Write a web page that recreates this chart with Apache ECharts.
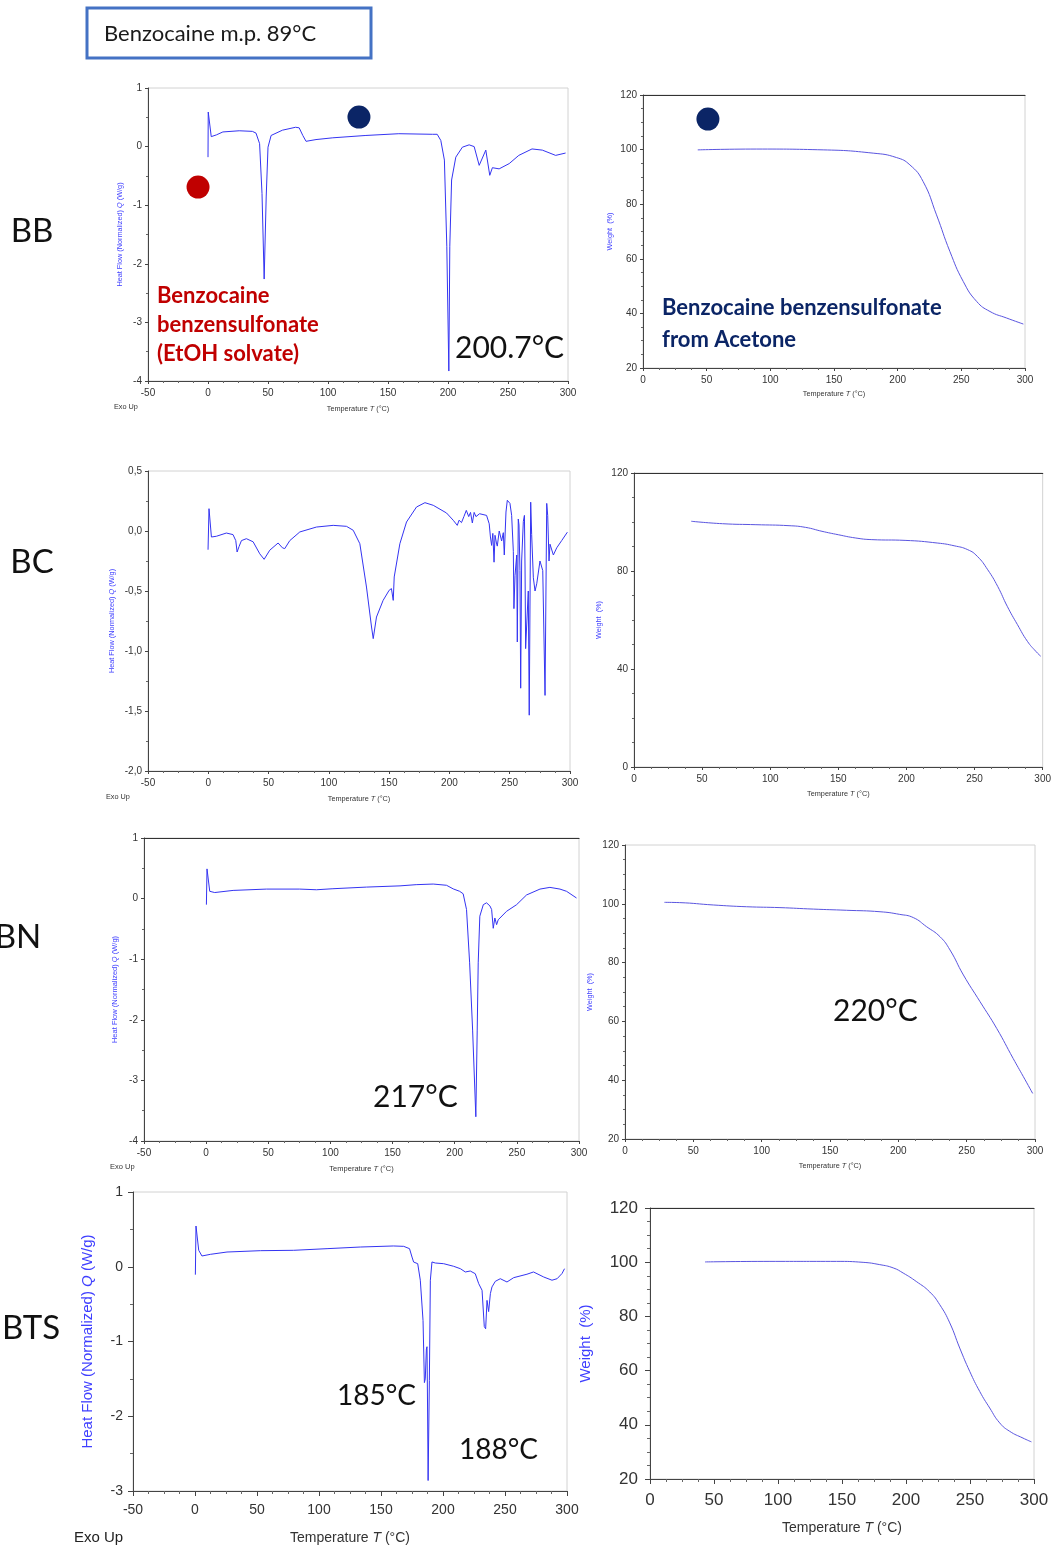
<!DOCTYPE html>
<html>
<head>
<meta charset="utf-8">
<title>Benzocaine salts – DSC / TGA</title>
<script src="https://cdn.jsdelivr.net/npm/echarts/dist/echarts.min.js"></script>
<style>
  html, body { margin: 0; padding: 0; background: #fff; }
  #chart { width: 1054px; height: 1548px; }
</style>
</head>
<body>
<div id="chart"></div>
<script>
// ---------- measured curves (temperature in °C) ----------

// BB: DSC heat flow (W/g)
const bbDscT = [0, 0.2, 2.7, 7, 12.4, 26, 37, 40, 43, 45, 46.8, 48.5, 50, 52.6, 62, 73, 76, 79, 81.7, 90, 104, 131.6, 159, 187, 191, 194, 197, 199, 200.7, 201.5, 203, 206.5, 212, 217.6, 221.8, 226, 231.5, 233, 234.8, 237, 242.6, 251, 259, 270, 278.6, 289.7, 298];
const bbDscQ = [-0.18, 0.59, 0.17, 0.2, 0.25, 0.27, 0.26, 0.23, 0.05, -0.8, -2.26, -0.86, -0.01, 0.19, 0.28, 0.33, 0.32, 0.19, 0.09, 0.12, 0.15, 0.19, 0.22, 0.21, 0.21, 0.105, -0.23, -1.7, -3.83, -1.7, -0.57, -0.18, -0.01, 0.03, 0.0, -0.32, -0.06, -0.06, -0.49, -0.36, -0.38, -0.29, -0.15, -0.04, -0.06, -0.15, -0.11];

// BB: TGA weight (%)
const bbTgaT = [43, 89, 141.5, 180.8, 199, 209.6, 220, 230.5, 241, 251.5, 262, 272.5, 285.6, 298.7];
const bbTgaW = [99.9, 100.2, 99.9, 98.7, 97.1, 94.4, 88.3, 76.1, 62.7, 51.7, 44.4, 40.7, 38.3, 36.1];

// BC: DSC heat flow (W/g)
const bcDscT = [-0.2, 0.6, 2.6, 6.7, 15, 20.5, 22.8, 23.9, 25.5, 27.5, 31.6, 37.2, 42.7, 46.3, 51, 57.9, 61.5, 63.4, 67.6, 75.9, 89.7, 103.6, 114.6, 120.2, 125.7, 131.2, 135.4, 136.8, 139.5, 145, 150, 151.9, 153.4, 154.2, 158.9, 164.4, 172.7, 179.7, 186.6, 197.6, 203.2, 206.5, 208, 210, 212, 214, 216, 217.5, 219, 220.5, 222, 225, 230.8, 233, 234, 235, 236, 237, 237.8, 239, 239.7, 241.3, 243.3, 244.7, 245.5, 246.9, 248, 250.2, 251.6, 253, 253.5, 254.4, 255.8, 256.3, 257.1, 257.7, 258.5, 259.1, 259.9, 261.3, 262.2, 262.7, 263.2, 264, 265.4, 266.2, 267.4, 268.2, 269.6, 271, 272.4, 275.1, 277.4, 279.3, 280.7, 281.5, 282.6, 283.4, 286.2, 289, 293.1, 297.8];
const bcDscQ = [-0.156, 0.186, -0.05, -0.044, -0.017, -0.03, -0.08, -0.175, -0.13, -0.08, -0.064, -0.09, -0.19, -0.236, -0.16, -0.1, -0.14, -0.147, -0.08, -0.008, 0.033, 0.047, 0.039, 0.006, -0.106, -0.467, -0.8, -0.897, -0.717, -0.578, -0.494, -0.48, -0.578, -0.383, -0.106, 0.075, 0.2, 0.236, 0.214, 0.15, 0.089, 0.047, 0.09, 0.07, 0.12, 0.172, 0.12, 0.155, 0.067, 0.155, 0.12, 0.144, 0.13, 0.06, -0.05, -0.12, -0.02, -0.26, -0.036, -0.1, -0.126, 0.0, -0.083, -0.014, -0.2, 0.158, 0.256, 0.23, 0.13, -0.17, -0.647, -0.37, -0.2, -0.925, 0.1, 0.05, -0.33, -1.31, -0.25, 0.08, 0.13, -0.3, -0.98, -0.8, -0.5, -1.535, 0.24, -0.03, -0.39, -0.5, -0.44, -0.25, -0.33, -1.37, 0.23, 0.13, -0.25, -0.11, -0.2, -0.14, -0.08, -0.01];

// BC: TGA weight (%)
const bcTgaT = [42, 65, 89.5, 113.8, 126, 138, 150, 162.4, 174.6, 199, 223, 235, 245, 252, 259.7, 267, 274, 281.5, 288.8, 295, 298.6];
const bcTgaW = [100.3, 99.3, 98.9, 98.5, 97.8, 96.2, 94.8, 93.5, 92.8, 92.5, 91.4, 90.3, 88.7, 86, 80.5, 73.7, 65.6, 58.1, 51.3, 47.2, 45.2];

// BN: DSC heat flow (W/g)
const bnDscT = [0.2, 0.7, 2.9, 6.9, 21.7, 48.5, 75.3, 88.8, 102, 129, 156, 169, 182.7, 193.4, 198.8, 204, 206.8, 209.5, 212, 214.4, 217, 218.1, 218.9, 220.2, 223, 225.6, 228.3, 229.7, 231, 232.3, 233.7, 235, 241.7, 249.8, 257.8, 268.6, 276.6, 284.7, 290, 298];
const bnDscQ = [-0.1, 0.49, 0.12, 0.1, 0.135, 0.157, 0.157, 0.146, 0.163, 0.19, 0.21, 0.23, 0.24, 0.22, 0.16, 0.12, 0.08, -0.18, -1.06, -2.17, -3.6, -2.17, -1.06, -0.29, -0.1, -0.07, -0.12, -0.18, -0.49, -0.32, -0.43, -0.35, -0.21, -0.1, 0.06, 0.157, 0.185, 0.157, 0.12, 0.01];

// BN: TGA weight (%)
const bnTgaT = [28.8, 40, 64.6, 89, 113.4, 137.8, 162, 186.6, 201, 211, 220.7, 230.5, 237.8, 247.6, 259.8, 272, 284, 291.5, 298.3];
const bnTgaW = [100.5, 100.4, 99.6, 99, 98.7, 98.2, 97.8, 97.3, 96.4, 95.3, 92.2, 88.8, 84.3, 75.8, 66.7, 57.6, 47.4, 41.2, 35.5];

// BTS: DSC heat flow (W/g)
const btsDscT = [0.3, 0.8, 3, 5.6, 12.4, 25.8, 52.7, 79.6, 106.5, 133.3, 160, 168.3, 173, 175, 176.3, 177.7, 179.6, 181.7, 183.9, 185, 185.7, 186.6, 187.1, 187.6, 188, 189, 189.8, 191.1, 193.8, 200.5, 208.6, 214, 218, 222, 226, 228.8, 231.5, 233.3, 234.4, 235.5, 236.8, 238.2, 239.5, 242.2, 246.2, 251.6, 257, 267.7, 273, 281.2, 287.9, 292, 296, 298];
const btsDscQ = [-0.106, 0.545, 0.22, 0.144, 0.166, 0.197, 0.215, 0.22, 0.242, 0.264, 0.278, 0.273, 0.242, 0.13, 0.063, 0.086, 0.041, -0.18, -0.72, -1.55, -1.5, -1.1, -1.07, -1.97, -2.86, -1.52, -0.18, 0.064, 0.05, 0.041, 0.006, -0.026, -0.07, -0.057, -0.093, -0.226, -0.315, -0.8, -0.83, -0.45, -0.6, -0.36, -0.27, -0.195, -0.16, -0.204, -0.146, -0.1, -0.07, -0.137, -0.18, -0.16, -0.09, -0.026];

// BTS: TGA weight (%)
const btsTgaT = [43, 93.7, 145.7, 166.5, 179.5, 190, 197.8, 208, 218.6, 226.4, 234.2, 242, 249.8, 257.6, 265.4, 273.2, 281, 291.4, 298];
const btsTgaW = [100.1, 100.3, 100.3, 99.95, 99.1, 97.9, 96, 92.9, 89, 84.3, 77.6, 68.3, 59.7, 52.3, 46.2, 40.7, 37.6, 35.1, 33.7];

// marker dots: [temperature, value]
const solvateDot = [-8.3, -0.69];
const acetoneDscDot = [125.8, 0.505];
const acetoneTgaDot = [51, 111.2];

// axis ranges [min, max, interval]
const dscTempRange = [-50, 300, 50];
const tgaTempRange = [0, 300, 50];
const heatRangeWide = [-4, 1, 1];
const heatRangeBC = [-2, 0.5, 0.5];
const heatRangeBTS = [-3, 1, 1];
const weightRange = [20, 120, 20];
const weightRangeBC = [0, 120, 40];

const rowLabels = ['BB', 'BC', 'BN', 'BTS'];

// ---------- layout ----------
const AXIS_FONT = '"Liberation Sans", Arial, sans-serif';
const NOTE_FONT = 'Lato, "Open Sans", sans-serif';
const DSC_BLUE = '#3434f2';
const TGA_BLUE = '#5a55e0';
const NAME_BLUE = '#3f3fff';
const RED = '#c00000';
const NAVY = '#0b2566';

const zip = (xs, ys) => xs.map((x, i) => [x, ys[i]]);

const heatName = 'Heat Flow (Normalized) {i|Q} (W/g)';
const weightName = 'Weight  (%)';
const tempName = 'Temperature {i|T} (°C)';

const panels = [
  { data: zip(bbDscT, bbDscQ), kind: 'dsc', box: [148, 88, 420, 293], xr: dscTempRange, yr: heatRangeWide, yName: heatName,
    tick: 10, nameSize: 7.3, xMargin: 7, yMargin: 6, yGap: 25, xGap: 24, topDark: false, ySplit: 2 },
  { data: zip(bbTgaT, bbTgaW), kind: 'tga', box: [643, 95, 382, 273], xr: tgaTempRange, yr: weightRange, yName: weightName,
    tick: 10, nameSize: 7.3, xMargin: 7, yMargin: 6, yGap: 30, xGap: 22, topDark: true, ySplit: 4 },
  { data: zip(bcDscT, bcDscQ), kind: 'dsc', box: [148, 471, 422, 300], xr: dscTempRange, yr: heatRangeBC, yName: heatName,
    tick: 10, nameSize: 7.3, xMargin: 7, yMargin: 6, yGap: 33, xGap: 24, topDark: false, ySplit: 2, comma: true },
  { data: zip(bcTgaT, bcTgaW), kind: 'tga', box: [634, 473, 412, 294], xr: tgaTempRange, yr: weightRangeBC, yName: weightName,
    tick: 10, nameSize: 7.3, xMargin: 7, yMargin: 6, yGap: 32, xGap: 23, topDark: true, ySplit: 4 },
  { data: zip(bnDscT, bnDscQ), kind: 'dsc', box: [144, 838, 435, 303], xr: dscTempRange, yr: heatRangeWide, yName: heatName,
    tick: 10, nameSize: 7.5, xMargin: 7, yMargin: 6, yGap: 25, xGap: 24, topDark: true, ySplit: 2 },
  { data: zip(bnTgaT, bnTgaW), kind: 'tga', box: [625, 845, 410, 294], xr: tgaTempRange, yr: weightRange, yName: weightName,
    tick: 10, nameSize: 7.3, xMargin: 7, yMargin: 6, yGap: 32, xGap: 23, topDark: false, ySplit: 4 },
  { data: zip(btsDscT, btsDscQ), kind: 'dsc', box: [133, 1192, 434, 299], xr: dscTempRange, yr: heatRangeBTS, yName: heatName,
    tick: 14, nameSize: 15, xNameSize: 14, xMargin: 12, yMargin: 10, yGap: 38, xGap: 40, topDark: false, ySplit: 2 },
  { data: zip(btsTgaT, btsTgaW), kind: 'tga', box: [650, 1208, 384, 271], xr: tgaTempRange, yr: weightRange, yName: weightName,
    tick: 17, nameSize: 15, xNameSize: 14, xMargin: 13, yMargin: 12, yGap: 57, xGap: 42, topDark: true, ySplit: 4 }
];

const grid = [], xAxis = [], yAxis = [], series = [];
const seriesAxis = [];

panels.forEach((p, i) => {
  const [left, top, width, height] = p.box;
  grid.push({ left, top, width, height, show: true, borderColor: '#d2d2d2', borderWidth: 1, backgroundColor: '#fff', containLabel: false });

  const italic = (size, color) => ({ i: { fontStyle: 'italic', fontSize: size, color, fontFamily: AXIS_FONT } });
  const xNameSize = p.xNameSize || p.nameSize;

  const xi = xAxis.length;
  xAxis.push({
    type: 'value', gridIndex: i, position: 'bottom',
    min: p.xr[0], max: p.xr[1], interval: p.xr[2],
    axisLine: { show: true, onZero: false, lineStyle: { color: '#444', width: 1 } },
    axisTick: { show: true, length: p.tick > 12 ? 5 : 3, lineStyle: { color: '#444' } },
    minorTick: { show: true, splitNumber: 4, length: p.tick > 12 ? 3 : 2, lineStyle: { color: '#666' } },
    splitLine: { show: false },
    axisLabel: { fontSize: p.tick, color: '#333', margin: p.xMargin, fontFamily: AXIS_FONT },
    name: tempName, nameLocation: 'middle', nameGap: p.xGap,
    nameTextStyle: { fontSize: xNameSize, color: '#333', fontFamily: AXIS_FONT, rich: italic(xNameSize, '#333') }
  });
  if (p.topDark) {
    xAxis.push({
      type: 'value', gridIndex: i, position: 'top',
      min: p.xr[0], max: p.xr[1], interval: p.xr[2],
      axisLine: { show: true, onZero: false, lineStyle: { color: '#333', width: 1.2 } },
      axisTick: { show: false }, axisLabel: { show: false }, splitLine: { show: false }
    });
  }

  const yi = yAxis.length;
  yAxis.push({
    type: 'value', gridIndex: i,
    min: p.yr[0], max: p.yr[1], interval: p.yr[2],
    axisLine: { show: true, onZero: false, lineStyle: { color: '#444', width: 1 } },
    axisTick: { show: true, length: p.tick > 12 ? 5 : 3, lineStyle: { color: '#444' } },
    minorTick: { show: true, splitNumber: p.ySplit, length: p.tick > 12 ? 3 : 2, lineStyle: { color: '#666' } },
    splitLine: { show: false },
    axisLabel: {
      fontSize: p.tick, color: '#333', margin: p.yMargin, fontFamily: AXIS_FONT,
      formatter: p.comma ? (v => v.toFixed(1).replace('.', ',')) : (v => String(v))
    },
    name: p.yName, nameLocation: 'middle', nameRotate: 90, nameGap: p.yGap,
    nameTextStyle: { fontSize: p.nameSize, color: NAME_BLUE, fontFamily: AXIS_FONT, rich: italic(p.nameSize, NAME_BLUE) }
  });

  series.push({
    type: 'line', xAxisIndex: xi, yAxisIndex: yi, data: p.data,
    showSymbol: false, symbol: 'none',
    smooth: p.kind === 'tga' ? 0.5 : false,
    lineStyle: { color: p.kind === 'tga' ? TGA_BLUE : DSC_BLUE, width: 1 },
    animation: false, z: 3
  });
  seriesAxis.push([xi, yi]);
});

// coloured reference dots
const dot = (panelIdx, point, color) => ({
  type: 'scatter', xAxisIndex: seriesAxis[panelIdx][0], yAxisIndex: seriesAxis[panelIdx][1],
  data: [point], symbolSize: 23, itemStyle: { color, opacity: 1 }, animation: false, z: 5
});
series.push(dot(0, solvateDot, RED));
series.push(dot(0, acetoneDscDot, NAVY));
series.push(dot(1, acetoneTgaDot, NAVY));

// ---------- texts ----------
const txt = (x, y, text, size, color, opts = {}) => ({
  type: 'text', x, y, z: 100,
  style: Object.assign({ text, fontSize: size, fill: color, fontFamily: NOTE_FONT, verticalAlign: 'middle', align: 'left' }, opts)
});
const rowY = [231, 562, 937, 1328];
const rowX = [32, 32, 18, 31];

const graphic = [
  { type: 'rect', z: 90, shape: { x: 87, y: 8, width: 284, height: 50 }, style: { fill: '#fff', stroke: '#4472c4', lineWidth: 3 } },
  txt(104, 34, 'Benzocaine m.p. 89°C', 22, '#1a1a1a'),

  ...rowLabels.map((t, k) => txt(rowX[k], rowY[k], t, 33, '#111', { align: 'center' })),

  txt(157, 296, 'Benzocaine', 22, RED, { fontWeight: 'bold' }),
  txt(157, 325, 'benzensulfonate', 22, RED, { fontWeight: 'bold' }),
  txt(157, 354, '(EtOH solvate)', 22, RED, { fontWeight: 'bold' }),
  txt(455, 348, '200.7°C', 30, '#111'),

  txt(662, 308, 'Benzocaine benzensulfonate', 22, NAVY, { fontWeight: 'bold' }),
  txt(662, 340, 'from Acetone', 22, NAVY, { fontWeight: 'bold' }),

  txt(373, 1097, '217°C', 30, '#111'),
  txt(833, 1011, '220°C', 30, '#111'),
  txt(337, 1396, '185°C', 28, '#111'),
  txt(459, 1450, '188°C', 28, '#111'),

  txt(114, 407, 'Exo Up', 7.3, '#333', { fontFamily: AXIS_FONT }),
  txt(106, 797, 'Exo Up', 7.3, '#333', { fontFamily: AXIS_FONT }),
  txt(110, 1167, 'Exo Up', 7.5, '#333', { fontFamily: AXIS_FONT }),
  txt(74, 1538, 'Exo Up', 15, '#222', { fontFamily: AXIS_FONT })
];

const chart = echarts.init(document.getElementById('chart'), null, { renderer: 'canvas' });
chart.setOption({
  backgroundColor: '#fff',
  animation: false,
  textStyle: { fontFamily: AXIS_FONT },
  grid, xAxis, yAxis, series, graphic
});
</script>
</body>
</html>
